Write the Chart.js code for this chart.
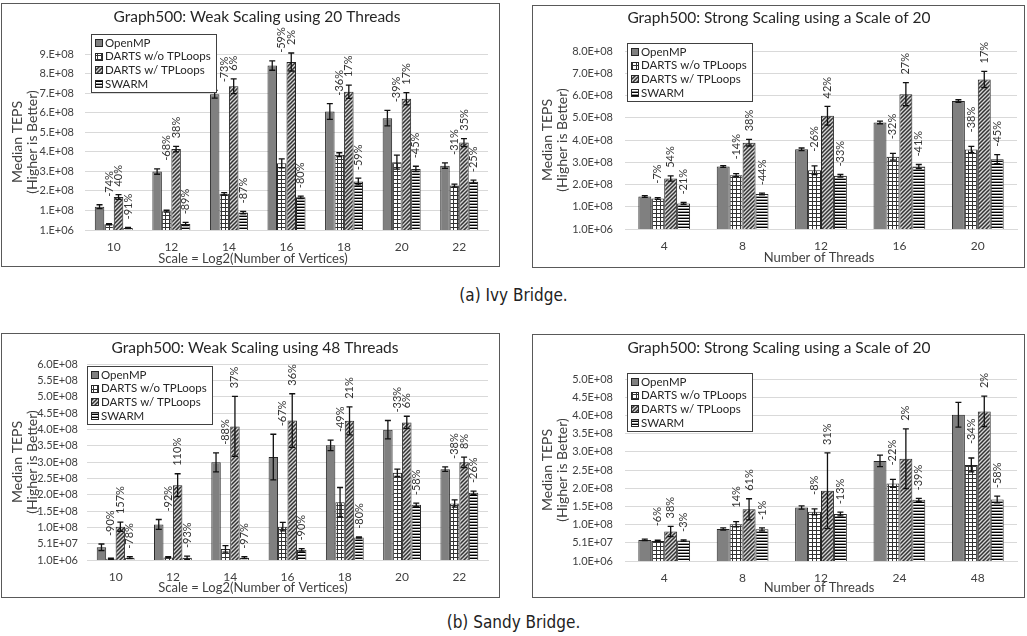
<!DOCTYPE html>
<html>
<head>
<meta charset="utf-8">
<script src="https://cdn.jsdelivr.net/npm/chart.js@4.4.0/dist/chart.umd.min.js"></script>
<style>
  body { margin: 0; background: #fff; width: 1027px; height: 636px; position: relative; overflow: hidden; }
  .panel { position: absolute; box-sizing: border-box; border: 1px solid #595959; background: #fff; }
  .panel canvas { display: block; }
  .caption { position: absolute; left: 0; width: 1027px; text-align: center; color: #222;
             font-family: 'Liberation Sans Narrow', 'DejaVu Sans Condensed', sans-serif; font-size: 17px; }
</style>
</head>
<body>
<div class="panel" style="left:1px;top:3px;width:499px;height:264px"><canvas id="ivyWeak" width="497" height="262"></canvas></div>
<div class="panel" style="left:532px;top:5px;width:493px;height:263px"><canvas id="ivyStrong" width="491" height="261"></canvas></div>
<div class="caption" style="top:285px">(a) Ivy Bridge.</div>
<div class="panel" style="left:1px;top:333px;width:499px;height:265px"><canvas id="sandyWeak" width="497" height="263"></canvas></div>
<div class="panel" style="left:532px;top:334px;width:493px;height:264px"><canvas id="sandyStrong" width="491" height="262"></canvas></div>
<div class="caption" style="top:612px">(b) Sandy Bridge.</div>

<script>
// ---- (a) Ivy Bridge: weak scaling, 20 threads ----
const ivyWeakScales = ['10', '12', '14', '16', '18', '20', '22'];
const ivyWeakOpenMP = [1.20e8, 3.00e8, 6.95e8, 8.42e8, 6.07e8, 5.73e8, 3.30e8];
const ivyWeakNoTPL = [3.0e7, 0.97e8, 1.86e8, 3.42e8, 3.86e8, 3.48e8, 2.29e8];
const ivyWeakTPL = [1.70e8, 4.15e8, 7.36e8, 8.60e8, 7.08e8, 6.72e8, 4.48e8];
const ivyWeakSwarm = [1.1e7, 3.2e7, 0.9e8, 1.68e8, 2.49e8, 3.13e8, 2.48e8];
const ivyWeakOpenMPErr = [1.0e7, 1.4e7, 2.0e7, 2.4e7, 4.0e7, 4.0e7, 1.4e7];
const ivyWeakNoTPLErr = [3e6, 5e6, 6e6, 2.3e7, 1.0e7, 3.6e7, 7e6];
const ivyWeakTPLErr = [1.2e7, 1.4e7, 3.8e7, 4.6e7, 3.4e7, 3.1e7, 2.0e7];
const ivyWeakSwarmErr = [3e6, 8e6, 6e6, 6e6, 1.7e7, 1.4e7, 8e6];
const ivyWeakNoTPLPct = ['-74%', '-68%', '-73%', '-59%', '-36%', '-39%', '-31%'];
const ivyWeakTPLPct = ['40%', '38%', '6%', '2%', '17%', '17%', '35%'];
const ivyWeakSwarmPct = ['-91%', '-89%', '-87%', '-80%', '-59%', '-45%', '-25%'];
const ivyWeakTicks = ['1.E+06', '1.E+08', '2.E+08', '3.E+08', '4.E+08', '5.E+08', '6.E+08', '7.E+08', '8.E+08', '9.E+08'];

// ---- (a) Ivy Bridge: strong scaling, scale 20 ----
const ivyStrongThreads = ['4', '8', '12', '16', '20'];
const ivyStrongOpenMP = [1.47e8, 2.82e8, 3.59e8, 4.80e8, 5.76e8];
const ivyStrongNoTPL = [1.38e8, 2.43e8, 2.65e8, 3.26e8, 3.58e8];
const ivyStrongTPL = [2.28e8, 3.89e8, 5.10e8, 6.07e8, 6.73e8];
const ivyStrongSwarm = [1.16e8, 1.58e8, 2.40e8, 2.82e8, 3.15e8];
const ivyStrongOpenMPErr = [4e6, 4e6, 6e6, 6e6, 6e6];
const ivyStrongNoTPLErr = [4e6, 7e6, 2.0e7, 1.5e7, 1.4e7];
const ivyStrongTPLErr = [1.2e7, 1.5e7, 4.2e7, 5.2e7, 3.6e7];
const ivyStrongSwarmErr = [4e6, 4e6, 6e6, 9e6, 2.0e7];
const ivyStrongNoTPLPct = ['-7%', '-14%', '-26%', '-32%', '-38%'];
const ivyStrongTPLPct = ['54%', '38%', '42%', '27%', '17%'];
const ivyStrongSwarmPct = ['-21%', '-44%', '-33%', '-41%', '-45%'];
const ivyStrongTicks = ['1.0E+06', '1.0E+08', '2.0E+08', '3.0E+08', '4.0E+08', '5.0E+08', '6.0E+08', '7.0E+08', '8.0E+08'];

// ---- (b) Sandy Bridge: weak scaling, 48 threads ----
const sandyWeakScales = ['10', '12', '14', '16', '18', '20', '22'];
const sandyWeakOpenMP = [4.0e7, 1.10e8, 3.00e8, 3.16e8, 3.52e8, 4.00e8, 2.79e8];
const sandyWeakNoTPL = [5e6, 9e6, 3.5e7, 1.03e8, 1.78e8, 2.68e8, 1.74e8];
const sandyWeakTPL = [1.03e8, 2.30e8, 4.10e8, 4.28e8, 4.27e8, 4.22e8, 3.00e8];
const sandyWeakSwarm = [8e6, 8e6, 8e6, 3.2e7, 7.0e7, 1.70e8, 2.07e8];
const sandyWeakOpenMPErr = [1.0e7, 1.5e7, 2.9e7, 7.0e7, 1.6e7, 2.8e7, 7e6];
const sandyWeakNoTPLErr = [2e6, 2e6, 1.0e7, 1.3e7, 4.5e7, 1.1e7, 1.1e7];
const sandyWeakTPLErr = [1.4e7, 3.5e7, 9.2e7, 8.2e7, 4.3e7, 1.9e7, 1.6e7];
const sandyWeakSwarmErr = [3e6, 5e6, 3e6, 4e6, 2e6, 5e6, 5e6];
const sandyWeakNoTPLPct = ['-90%', '-92%', '-88%', '-67%', '-49%', '-33%', '-38%'];
const sandyWeakTPLPct = ['157%', '110%', '37%', '36%', '21%', '6%', '8%'];
const sandyWeakSwarmPct = ['-78%', '-93%', '-97%', '-90%', '-80%', '-58%', '-26%'];
const sandyWeakTicks = ['1.0E+06', '5.1E+07', '1.0E+08', '1.5E+08', '2.0E+08', '2.5E+08', '3.0E+08',
                        '3.5E+08', '4.0E+08', '4.5E+08', '5.0E+08', '5.5E+08', '6.0E+08'];

// ---- (b) Sandy Bridge: strong scaling, scale 20 ----
const sandyStrongThreads = ['4', '8', '12', '24', '48'];
const sandyStrongOpenMP = [5.9e7, 8.9e7, 1.48e8, 2.76e8, 4.03e8];
const sandyStrongNoTPL = [5.6e7, 1.02e8, 1.36e8, 2.14e8, 2.65e8];
const sandyStrongTPL = [8.2e7, 1.43e8, 1.94e8, 2.82e8, 4.12e8];
const sandyStrongSwarm = [5.7e7, 8.8e7, 1.30e8, 1.69e8, 1.70e8];
const sandyStrongOpenMPErr = [2e6, 3e6, 4.5e6, 1.6e7, 3.4e7];
const sandyStrongNoTPLErr = [2e6, 7e6, 8e6, 1.1e7, 1.9e7];
const sandyStrongTPLErr = [1.4e7, 2.9e7, 1.04e8, 8.2e7, 4.2e7];
const sandyStrongSwarmErr = [2e6, 4e6, 5e6, 4e6, 9e6];
const sandyStrongNoTPLPct = ['-6%', '14%', '-8%', '-22%', '-34%'];
const sandyStrongTPLPct = ['38%', '61%', '31%', '2%', '2%'];
const sandyStrongSwarmPct = ['-3%', '-1%', '-13%', '-39%', '-58%'];
const sandyStrongTicks = ['1.0E+06', '5.1E+07', '1.0E+08', '1.5E+08', '2.0E+08', '2.5E+08',
                          '3.0E+08', '3.5E+08', '4.0E+08', '4.5E+08', '5.0E+08'];

const seriesNames = ['OpenMP', 'DARTS w/o TPLoops', 'DARTS w/ TPLoops', 'SWARM'];

const FONT = "Lato, 'Open Sans', sans-serif";
Chart.defaults.font.family = FONT;
Chart.defaults.color = '#404040';

// Excel-like fill patterns
function makePattern(kind) {
    const c = document.createElement('canvas');
    const g = c.getContext('2d');
    if (kind === 'grid') {
        c.width = 4; c.height = 4;
        g.fillStyle = '#fff'; g.fillRect(0, 0, 4, 4);
        g.fillStyle = '#333';
        g.fillRect(3, 0, 1, 4);
        g.fillRect(0, 3, 4, 1);
    } else if (kind === 'diag') {
        c.width = 4; c.height = 4;
        g.fillStyle = '#d6d6d6'; g.fillRect(0, 0, 4, 4);
        g.strokeStyle = '#333'; g.lineWidth = 1.5;
        g.beginPath();
        g.moveTo(-1, 5); g.lineTo(5, -1);
        g.moveTo(-1, 1); g.lineTo(1, -1);
        g.moveTo(3, 5); g.lineTo(5, 3);
        g.stroke();
    } else {
        c.width = 3; c.height = 3;
        g.fillStyle = '#fff'; g.fillRect(0, 0, 3, 3);
        g.fillStyle = '#000'; g.fillRect(0, 2, 3, 1);
        g.fillStyle = '#999'; g.fillRect(0, 1, 3, 1);
    }
    return g.createPattern(c, 'repeat');
}

const seriesFills = ['#808080', makePattern('grid'), makePattern('diag'), makePattern('hstripe')];

// error bars drawn from each dataset's "errors" array
const errorBars = {
    id: 'errorBars',
    afterDatasetsDraw(chart) {
        const ctx = chart.ctx, y = chart.scales.y;
        ctx.save();
        ctx.strokeStyle = '#111';
        ctx.lineWidth = 1.3;
        chart.data.datasets.forEach((ds, i) => {
            chart.getDatasetMeta(i).data.forEach((bar, j) => {
                const hi = y.getPixelForValue(ds.data[j] + ds.errors[j]);
                const lo = y.getPixelForValue(ds.data[j] - ds.errors[j]);
                ctx.beginPath();
                ctx.moveTo(bar.x, hi); ctx.lineTo(bar.x, lo);
                ctx.moveTo(bar.x - 3, hi); ctx.lineTo(bar.x + 3, hi);
                ctx.moveTo(bar.x - 3, lo); ctx.lineTo(bar.x + 3, lo);
                ctx.stroke();
            });
        });
        ctx.restore();
    }
};

// rotated percentage labels above the bars
const pctLabels = {
    id: 'pctLabels',
    afterDatasetsDraw(chart, args, opts) {
        const ctx = chart.ctx, y = chart.scales.y;
        const sets = chart.data.datasets;
        const topOf = (i, j) => Math.min(chart.getDatasetMeta(i).data[j].y,
                                         y.getPixelForValue(sets[i].data[j] + sets[i].errors[j]));
        ctx.save();
        ctx.fillStyle = '#333';
        ctx.font = '11px ' + FONT;
        ctx.textAlign = 'left';
        ctx.textBaseline = 'middle';
        sets.forEach((ds, i) => {
            if (!ds.pct) return;
            chart.getDatasetMeta(i).data.forEach((bar, j) => {
                let top = topOf(i, j);
                let gap = opts.gap;
                if (i === 1) {
                    if (opts.aboveOpenMP) top = Math.min(top, topOf(0, j));
                    else gap = opts.gapNoTPL;
                }
                ctx.save();
                ctx.translate(bar.x, top - gap);
                ctx.rotate(-Math.PI / 2);
                ctx.fillText(ds.pct[j], 0, 0);
                ctx.restore();
            });
        });
        ctx.restore();
    }
};

// chart title and x-axis title placed like the Excel originals
const panelText = {
    id: 'panelText',
    afterDraw(chart, args, opts) {
        const ctx = chart.ctx;
        ctx.save();
        ctx.textAlign = 'center';
        ctx.textBaseline = 'middle';
        ctx.fillStyle = '#262626';
        ctx.font = '15.5px ' + FONT;
        ctx.fillText(opts.title, opts.titleX, opts.titleY);
        ctx.fillStyle = '#404040';
        ctx.font = '13px ' + FONT;
        ctx.fillText(opts.xTitle, opts.xTitleX, opts.xTitleY);
        ctx.restore();
    }
};

// boxed legend sitting inside the plot area
const boxLegend = {
    id: 'boxLegend',
    afterDraw(chart, args, opts) {
        const ctx = chart.ctx, area = chart.chartArea;
        const x0 = area.left + opts.dx, y0 = area.top + opts.dy;
        const row = 13.7, sw = 8;
        ctx.save();
        ctx.font = '11.5px ' + FONT;
        const sets = chart.data.datasets;
        const tw = Math.max(...sets.map(d => ctx.measureText(d.label).width));
        const w = Math.round(tw + sw + 11), h = Math.round(row * sets.length + 3);
        ctx.fillStyle = '#fff';
        ctx.fillRect(x0, y0, w, h);
        ctx.strokeStyle = '#404040';
        ctx.lineWidth = 1;
        ctx.strokeRect(x0 + 0.5, y0 + 0.5, w, h);
        sets.forEach((d, i) => {
            const cy = y0 + 2 + row * (i + 0.5);
            ctx.fillStyle = d.backgroundColor;
            ctx.fillRect(x0 + 4, Math.round(cy - sw / 2), sw, sw);
            ctx.strokeStyle = '#262626';
            ctx.strokeRect(x0 + 4.5, Math.round(cy - sw / 2) + 0.5, sw - 1, sw - 1);
            ctx.fillStyle = '#262626';
            ctx.textBaseline = 'middle';
            ctx.fillText(d.label, x0 + sw + 6, cy);
        });
        ctx.restore();
    }
};

function makeChart(id, cfg, L) {
    const datasets = seriesNames.map((name, k) => ({
        label: name,
        data: cfg.series[k],
        errors: cfg.errors[k],
        pct: k > 0 ? cfg.pct[k - 1] : null,
        backgroundColor: seriesFills[k],
        borderColor: '#262626',
        borderWidth: 1,
        barPercentage: 1.0,
        categoryPercentage: 0.66
    }));
    const yMin = 1e6;
    return new Chart(document.getElementById(id), {
        type: 'bar',
        data: { labels: cfg.labels, datasets: datasets },
        plugins: [errorBars, pctLabels, panelText, boxLegend],
        options: {
            responsive: false,
            animation: false,
            layout: { padding: { left: 0, right: L.padRight, top: L.top, bottom: 0 } },
            plugins: {
                legend: { display: false },
                tooltip: { enabled: false },
                title: { display: false },
                panelText: { title: cfg.title, xTitle: cfg.xTitle, titleX: L.titleX, titleY: L.titleY,
                             xTitleX: L.xTitleX, xTitleY: L.xTitleY },
                pctLabels: { gap: 8, gapNoTPL: 14, aboveOpenMP: L.aboveOpenMP },
                boxLegend: { dx: L.legendDx, dy: L.legendDy }
            },
            scales: {
                x: {
                    grid: { display: false, drawTicks: false },
                    border: { color: '#d9d9d9' },
                    ticks: { padding: 10, font: { size: 12 }, color: '#404040' },
                    afterFit: s => { s.height = L.xHeight; }
                },
                y: {
                    min: yMin,
                    max: yMin + (cfg.yTicks.length - 1) * cfg.step,
                    afterBuildTicks: s => {
                        s.ticks = cfg.yTicks.map((t, i) => ({ value: yMin + i * cfg.step }));
                    },
                    ticks: {
                        padding: L.tickPad,
                        font: { size: 11 },
                        color: '#404040',
                        callback: (v, i) => cfg.yTicks[i]
                    },
                    grid: { color: '#d9d9d9', drawTicks: false },
                    border: { display: false },
                    title: {
                        display: true,
                        text: ['Median TEPS', '(Higher is Better)'],
                        font: { size: 14, lineHeight: 15 / 14 },
                        color: '#404040',
                        padding: { top: L.yTitlePad, bottom: 0 }
                    },
                    afterFit: s => { s.width = L.yWidth; }
                }
            }
        }
    });
}

makeChart('ivyWeak', {
    title: 'Graph500: Weak Scaling using 20 Threads',
    xTitle: 'Scale = Log2(Number of Vertices)',
    labels: ivyWeakScales,
    series: [ivyWeakOpenMP, ivyWeakNoTPL, ivyWeakTPL, ivyWeakSwarm],
    errors: [ivyWeakOpenMPErr, ivyWeakNoTPLErr, ivyWeakTPLErr, ivyWeakSwarmErr],
    pct: [ivyWeakNoTPLPct, ivyWeakTPLPct, ivyWeakSwarmPct],
    yTicks: ivyWeakTicks,
    step: 1e8
}, { padRight: 11, top: 50, xHeight: 36, yWidth: 83, tickPad: 11, yTitlePad: 7.5,
     titleX: 255, titleY: 13, xTitleX: 251, xTitleY: 255, aboveOpenMP: true, legendDx: 6, legendDy: -20 });

makeChart('ivyStrong', {
    title: 'Graph500: Strong Scaling using a Scale of 20',
    xTitle: 'Number of Threads',
    labels: ivyStrongThreads,
    series: [ivyStrongOpenMP, ivyStrongNoTPL, ivyStrongTPL, ivyStrongSwarm],
    errors: [ivyStrongOpenMPErr, ivyStrongNoTPLErr, ivyStrongTPLErr, ivyStrongSwarmErr],
    pct: [ivyStrongNoTPLPct, ivyStrongTPLPct, ivyStrongSwarmPct],
    yTicks: ivyStrongTicks,
    step: 1e8
}, { padRight: 7, top: 45, xHeight: 38, yWidth: 92, tickPad: 12, yTitlePad: 6.5,
     titleX: 246, titleY: 12, xTitleX: 286, xTitleY: 252, aboveOpenMP: false, legendDx: 2, legendDy: -8 });

makeChart('sandyWeak', {
    title: 'Graph500: Weak Scaling using 48 Threads',
    xTitle: 'Scale = Log2(Number of Vertices)',
    labels: sandyWeakScales,
    series: [sandyWeakOpenMP, sandyWeakNoTPL, sandyWeakTPL, sandyWeakSwarm],
    errors: [sandyWeakOpenMPErr, sandyWeakNoTPLErr, sandyWeakTPLErr, sandyWeakSwarmErr],
    pct: [sandyWeakNoTPLPct, sandyWeakTPLPct, sandyWeakSwarmPct],
    yTicks: sandyWeakTicks,
    step: 5e7
}, { padRight: 11, top: 30, xHeight: 37, yWidth: 85, tickPad: 9, yTitlePad: 7.5,
     titleX: 253, titleY: 14, xTitleX: 251, xTitleY: 254, aboveOpenMP: true, legendDx: 0, legendDy: 2 });

makeChart('sandyStrong', {
    title: 'Graph500: Strong Scaling using a Scale of 20',
    xTitle: 'Number of Threads',
    labels: sandyStrongThreads,
    series: [sandyStrongOpenMP, sandyStrongNoTPL, sandyStrongTPL, sandyStrongSwarm],
    errors: [sandyStrongOpenMPErr, sandyStrongNoTPLErr, sandyStrongTPLErr, sandyStrongSwarmErr],
    pct: [sandyStrongNoTPLPct, sandyStrongTPLPct, sandyStrongSwarmPct],
    yTicks: sandyStrongTicks,
    step: 5e7
}, { padRight: 7, top: 44, xHeight: 36, yWidth: 92, tickPad: 12, yTitlePad: 6.5,
     titleX: 246, titleY: 13, xTitleX: 286, xTitleY: 253, aboveOpenMP: false, legendDx: 2, legendDy: -6 });
</script>
</body>
</html>
